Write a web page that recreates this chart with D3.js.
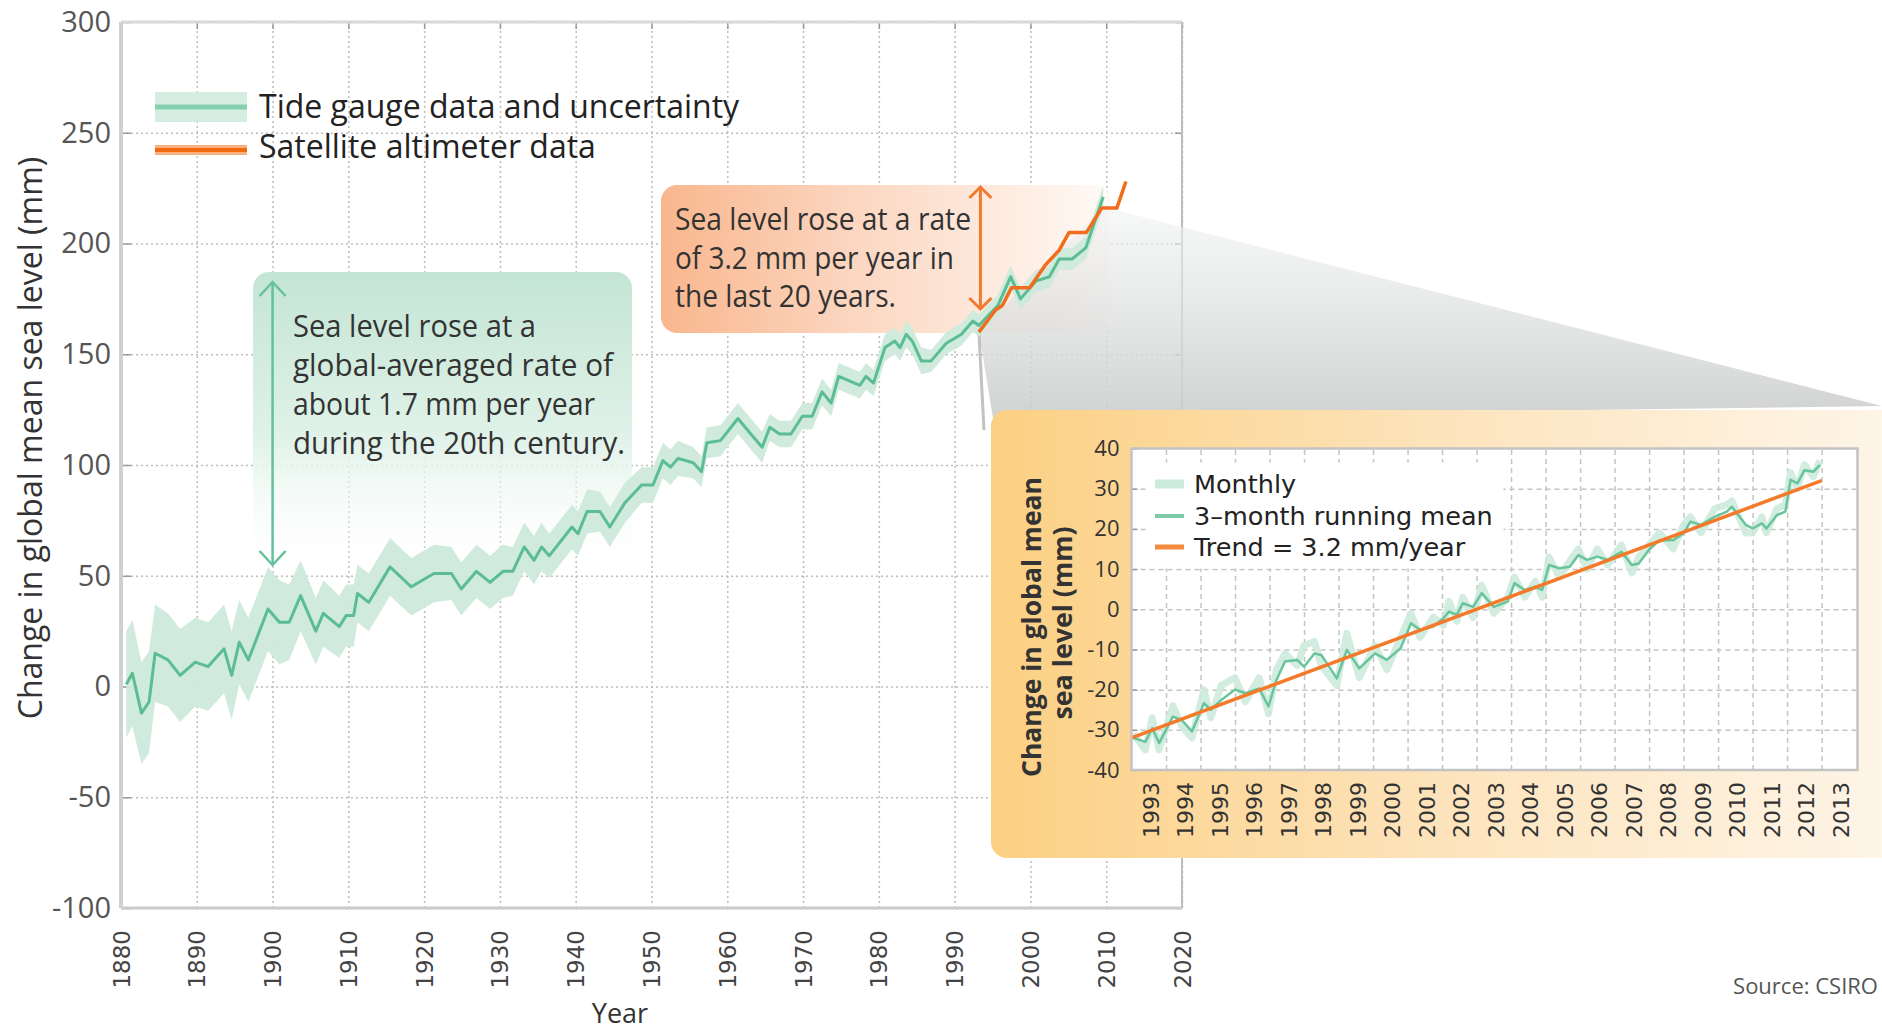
<!DOCTYPE html>
<html>
<head>
<meta charset="utf-8">
<title>Global mean sea level</title>
<script src="https://cdn.jsdelivr.net/npm/d3@7"></script>
<style>
  body { margin: 0; background: #fff; }
  svg { display: block; }
  .grid line { stroke: #bdbdbd; stroke-width: 1.5; stroke-dasharray: 2,3; }
  .grid path, .igrid path, .axis path { display: none; }
  .igrid line { stroke: #c4c4c4; stroke-width: 1.5; stroke-dasharray: 5,4; }
  .axis line { stroke: #9a9a9a; stroke-width: 1.5; }
</style>
</head>
<body>
<div id="chart"></div>
<script>
// tide gauge reconstruction (mm)
var tgYears = [1880.7, 1881.5, 1882.7, 1883.7, 1884.5, 1886.2, 1887.8, 1889.8, 1891.5, 1893.6,
    1894.6, 1895.6, 1896.8, 1899.4, 1900.9, 1902.2, 1903.7, 1905.7, 1906.7, 1908.8,
    1909.7, 1910.7, 1911.2, 1912.7, 1915.5, 1918.3, 1921.3, 1923.6, 1924.9, 1926.9,
    1928.7, 1930.4, 1931.7, 1933.2, 1934.5, 1935.5, 1936.5, 1939.5, 1940.3, 1941.5,
    1943.2, 1944.5, 1946.5, 1948.7, 1950.2, 1951.5, 1952.5, 1953.5, 1955.5, 1956.6,
    1957.3, 1959.1, 1961.4, 1963.1, 1964.6, 1965.6, 1966.9, 1968.4, 1969.9, 1971.2,
    1972.5, 1973.7, 1974.7, 1977.5, 1978.3, 1979.3, 1980.8, 1982.1, 1982.8, 1983.6,
    1984.4, 1985.6, 1986.9, 1988.9, 1990.9, 1992.4, 1993.2, 1995.7, 1997.4, 1998.7,
    2000.7, 2002.5, 2003.8, 2005.5, 2007.3, 2008.3, 2009.6];
var tgValues = [1, 6, -12, -7, 15, 12, 5, 11, 9, 17,
    5, 20, 12, 35, 29, 29, 41, 25, 33, 27,
    32, 32, 42, 38, 54, 45, 51, 51, 44, 52,
    47, 52, 52, 63, 57, 63, 59, 72, 69, 79,
    79, 72, 83, 91, 91, 102, 99, 103, 101, 97,
    110, 111, 121, 114, 108, 117, 114, 114, 122, 122,
    133, 128, 140, 136, 140, 137, 153, 156, 153, 159,
    156, 147, 147, 155, 159, 165, 163, 172, 185, 175,
    183, 185, 193, 193, 198, 208, 221];
var tgUncertainty = [24, 24, 23, 23, 22, 21, 21, 20, 20, 20,
    20, 19, 19, 19, 19, 17, 16, 15, 15, 14,
    14, 14, 13, 13, 13, 13, 13, 12, 12, 12,
    12, 12, 11, 11, 11, 11, 10, 10, 10, 10,
    9, 9, 9, 8, 8, 8, 8, 8, 7, 7,
    7, 7, 7, 7, 7, 6, 6, 6, 6, 6,
    6, 6, 6, 6, 6, 6, 6, 6, 6, 6,
    6, 6, 5, 5, 5, 5, 5, 5, 5, 5,
    5, 5, 5, 5, 5, 5, 5];

// satellite altimetry (mm)
var satYears = [1993.2, 1995.4, 1996.3, 1997.5, 1999.9, 2001.9, 2003.8, 2005.1, 2007.4, 2009.4, 2011.4, 2012.6];
var satValues = [160, 170, 172, 180, 180, 190, 197, 205, 205, 216, 216, 228];

var yearTicks = [1880, 1890, 1900, 1910, 1920, 1930, 1940, 1950, 1960, 1970, 1980, 1990, 2000, 2010, 2020];
var levelTicks = [-100, -50, 0, 50, 100, 150, 200, 250, 300];

// inset: satellite record 1993-2013 (mm)
var insetYears = [1993.05, 1993.4, 1993.6, 1993.8, 1994.2, 1994.45, 1994.75, 1995.1, 1995.3, 1995.6,
    1996.0, 1996.3, 1996.7, 1996.97, 1997.2, 1997.45, 1997.8, 1998.0, 1998.3, 1998.5,
    1998.95, 1999.24, 1999.6, 2000.06, 2000.4, 2000.8, 2001.1, 2001.36, 2001.75, 2002.04,
    2002.2, 2002.43, 2002.6, 2002.9, 2003.15, 2003.5, 2003.9, 2004.1, 2004.4, 2004.7,
    2004.9, 2005.1, 2005.4, 2005.7, 2005.95, 2006.2, 2006.5, 2006.8, 2007.2, 2007.5,
    2007.7, 2008.0, 2008.3, 2008.7, 2009.0, 2009.2, 2009.5, 2009.9, 2010.25, 2010.4,
    2010.8, 2011.0, 2011.27, 2011.4, 2011.7, 2011.95, 2012.1, 2012.3, 2012.5, 2012.76,
    2012.95];
var runningMean = [-32, -33, -29.6, -33.3, -26.7, -27.5, -30.4, -23.4, -25, -22.6,
    -20, -20.9, -19.7, -24.2, -17.6, -13, -12.6, -14.3, -11, -11.4,
    -17.2, -10.1, -14.7, -11, -12.6, -9.7, -3.5, -5.1, -4.3, -2.2,
    -0.6, -1.4, 1.5, 0.6, 4, 0.6, 1.9, 6.5, 4.8, 5.6,
    4.8, 11, 10.2, 10.6, 13.5, 12.3, 13.1, 12.3, 14.3, 11,
    11.4, 14.8, 17.2, 17.2, 18.9, 21.8, 21, 23, 24.3, 25.5,
    21, 20.1, 21.4, 20.1, 23.4, 24.3, 32.2, 31.3, 34.6, 34.2,
    35.9];
var monthly = [-31, -35, -27, -35, -24, -29, -32, -20, -27, -19,
    -17, -23, -17, -26, -15, -11, -14, -9, -8, -14,
    -19, -6, -17, -9, -15, -7, -1, -7, -2, -4,
    2, -3, 3, -2, 6, -1, 3, 8, 3, 7,
    3, 13, 8, 12, 15, 10, 15, 11, 16, 9,
    13, 16, 19, 15, 21, 23, 19, 25, 26, 27,
    19, 19, 23, 19, 25, 26, 34, 30, 36, 33,
    37];
var trendYears = [1993, 2013];
var trendValues = [-32, 32];
var insetYearTicks = [1993, 1994, 1995, 1996, 1997, 1998, 1999, 2000, 2001, 2002, 2003,
    2004, 2005, 2006, 2007, 2008, 2009, 2010, 2011, 2012, 2013];
var insetGridYears = [1994, 1995, 1996, 1997, 1998, 1999, 2000, 2001, 2002, 2003,
    2004, 2005, 2006, 2007, 2008, 2009, 2010, 2011, 2012, 2013];
var insetLevelTicks = [-40, -30, -20, -10, 0, 10, 20, 30, 40];

var W = 1882, H = 1031;
var sans = "'Open Sans', 'Noto Sans', sans-serif",
    wide = "'DejaVu Sans', Verdana, sans-serif";
var plain = function(d) { return String(d); };   // keeps the ASCII hyphen for negatives

var svg = d3.select("#chart").append("svg").attr("width", W).attr("height", H);
var defs = svg.append("defs");

function gradient(id, horizontal, stops) {
    var lg = defs.append("linearGradient").attr("id", id)
        .attr("x1", 0).attr("y1", 0).attr("x2", horizontal ? 1 : 0).attr("y2", horizontal ? 0 : 1);
    stops.forEach(function(s) {
        lg.append("stop").attr("offset", s[0]).attr("stop-color", s[1])
            .attr("stop-opacity", s.length > 2 ? s[2] : 1);
    });
}
gradient("greenNote", false, [[0, "#c4e5d5"], [0.55, "#e0f2e9"], [1, "#ffffff", 0]]);
gradient("orangeNote", true, [[0, "#f9b68d"], [0.45, "#fcd8c3"], [1, "#fffaf6"]]);
gradient("wedge", false, [[0, "#f1f3f4", 0.6], [1, "#cbcccc", 0.9]]);
gradient("insetBox", true, [[0, "#fcd083"], [0.5, "#fde4bd"], [1, "#fef6ea"]]);

// ---------- main chart ----------
var margin = {top: 22, left: 121},
    width = 1061, height = 886;
var x = d3.scaleLinear().domain([1880, 2020]).range([0, width]);
var y = d3.scaleLinear().domain([-100, 300]).range([height, 0]);
function px(v) { return margin.left + x(v); }
function py(v) { return margin.top + y(v); }

var main = svg.append("g").attr("transform", "translate(" + margin.left + "," + margin.top + ")");
main.append("g").attr("class", "grid").attr("transform", "translate(0," + height + ")")
    .call(d3.axisBottom(x).tickValues(yearTicks).tickSize(-height).tickFormat(""));
main.append("g").attr("class", "grid")
    .call(d3.axisLeft(y).tickValues(levelTicks).tickSize(-width).tickFormat(""));

// annotation boxes
svg.append("rect").attr("x", 253).attr("y", 272).attr("width", 379).attr("height", 303)
    .attr("rx", 16).attr("fill", "url(#greenNote)");
svg.append("rect").attr("x", 661).attr("y", 185).attr("width", 449).attr("height", 148)
    .attr("rx", 16).attr("fill", "url(#orangeNote)");

// zoom wedge towards the inset
var wedgeA = [px(satYears[0]), py(satValues[0])],
    wedgeB = [px(tgYears[tgYears.length - 1]), py(tgValues[tgValues.length - 1]) + 10];
svg.append("path").attr("fill", "url(#wedge)")
    .attr("d", "M" + wedgeA + "L" + wedgeB + "L" + [W, 406] + "L" + [993, 418] + "Z");
svg.append("line").attr("x1", wedgeA[0]).attr("y1", wedgeA[1]).attr("x2", 984).attr("y2", 430)
    .attr("stroke", "#a9a9a9").attr("stroke-width", 3).attr("opacity", 0.7);

var tg = tgYears.map(function(yr, i) { return {year: yr, level: tgValues[i], err: tgUncertainty[i]}; });
var sat = satYears.map(function(yr, i) { return {year: yr, level: satValues[i]}; });

var band = d3.area().x(function(d) { return px(d.year); })
    .y0(function(d) { return py(d.level - d.err); })
    .y1(function(d) { return py(d.level + d.err); });
var line = d3.line().x(function(d) { return px(d.year); }).y(function(d) { return py(d.level); });

svg.append("path").datum(tg).attr("d", band).attr("fill", "#cdeadb").attr("opacity", 0.95);
svg.append("path").datum(tg).attr("d", line).attr("fill", "none")
    .attr("stroke", "#5bbd92").attr("stroke-width", 3).attr("stroke-linejoin", "round");
svg.append("path").datum(sat).attr("d", line).attr("fill", "none")
    .attr("stroke", "#f36b1c").attr("stroke-width", 3.5).attr("stroke-linejoin", "round");

// double arrows
function doubleArrow(xPos, y1, y2, color, w, h, sw) {
    var a = svg.append("g").attr("fill", "none").attr("stroke", color).attr("stroke-width", sw);
    a.append("line").attr("x1", xPos).attr("x2", xPos).attr("y1", y1 + 1).attr("y2", y2 - 1);
    a.append("path").attr("d", "M" + (xPos - w) + "," + (y1 + h) + "L" + xPos + "," + y1 + "L" + (xPos + w) + "," + (y1 + h));
    a.append("path").attr("d", "M" + (xPos - w) + "," + (y2 - h) + "L" + xPos + "," + y2 + "L" + (xPos + w) + "," + (y2 - h));
}
doubleArrow(px(1900), 282, 565, "#62c29a", 13, 14, 2.5);
doubleArrow(px(1993.4), 187, 309, "#f27a2e", 11, 11, 3);

// annotation texts (the originals are set in a slightly condensed face)
var greenLines = [
    {text: "Sea level rose at a", len: 243},
    {text: "global-averaged rate of", len: 320},
    {text: "about 1.7 mm per year", len: 302},
    {text: "during the 20th century.", len: 332}
];
var orangeLines = [
    {text: "Sea level rose at a rate", len: 296},
    {text: "of 3.2 mm per year in", len: 279},
    {text: "the last 20 years.", len: 221}
];
svg.selectAll(".gnote").data(greenLines).enter().append("text")
    .attr("x", 293).attr("y", function(d, i) { return 337 + i * 39; })
    .attr("textLength", function(d) { return d.len; }).attr("lengthAdjust", "spacingAndGlyphs")
    .style("font-family", sans).style("font-size", "31px").attr("fill", "#333").text(function(d) { return d.text; });
svg.selectAll(".onote").data(orangeLines).enter().append("text")
    .attr("x", 675).attr("y", function(d, i) { return 230 + i * 38.5; })
    .attr("textLength", function(d) { return d.len; }).attr("lengthAdjust", "spacingAndGlyphs")
    .style("font-family", sans).style("font-size", "31px").attr("fill", "#333").text(function(d) { return d.text; });

// borders and ticks
main.append("g").attr("class", "axis").call(d3.axisTop(x).tickValues(yearTicks).tickSizeInner(-7).tickSizeOuter(0).tickFormat(""));
main.append("g").attr("class", "axis").attr("transform", "translate(" + width + ",0)")
    .call(d3.axisRight(y).tickValues(levelTicks).tickSizeInner(-7).tickSizeOuter(0).tickFormat(""));
var yAxis = main.append("g").attr("class", "axis")
    .call(d3.axisLeft(y).tickValues(levelTicks).tickSizeInner(-10).tickSizeOuter(0).tickPadding(10).tickFormat(plain));
yAxis.selectAll("text").style("font-family", sans).style("font-size", "29px").attr("fill", "#555");
var xAxis = main.append("g").attr("class", "axis").attr("transform", "translate(0," + height + ")")
    .call(d3.axisBottom(x).tickValues(yearTicks).tickSize(0).tickFormat(plain));
xAxis.selectAll("text").attr("transform", "rotate(-90)").attr("x", -22).attr("y", 0).attr("dy", ".35em")
    .style("text-anchor", "end").style("font-family", wide).style("font-size", "23px").attr("fill", "#444");

main.append("line").attr("x1", 0).attr("x2", width).attr("y1", 0).attr("y2", 0).attr("stroke", "#d6d9db").attr("stroke-width", 3);
main.append("line").attr("x1", 0).attr("x2", width).attr("y1", height).attr("y2", height).attr("stroke", "#cbcbcb").attr("stroke-width", 3);
main.append("line").attr("x1", 0).attr("x2", 0).attr("y1", 0).attr("y2", height).attr("stroke", "#cdd1d3").attr("stroke-width", 4);
main.append("line").attr("x1", width).attr("x2", width).attr("y1", 0).attr("y2", height).attr("stroke", "#bdbdbd").attr("stroke-width", 2);

svg.append("text").attr("transform", "translate(31,438) rotate(-90)").attr("dy", ".35em")
    .style("text-anchor", "middle").style("font-family", sans).style("font-size", "32px").attr("fill", "#333")
    .text("Change in global mean sea level (mm)");
svg.append("text").attr("x", 620).attr("y", 1023).style("text-anchor", "middle")
    .style("font-family", sans).style("font-size", "27px").attr("fill", "#333").text("Year");

// legend
svg.append("rect").attr("x", 155).attr("y", 92).attr("width", 92).attr("height", 30).attr("fill", "#d5ede1");
svg.append("line").attr("x1", 155).attr("x2", 247).attr("y1", 107).attr("y2", 107).attr("stroke", "#85cfad").attr("stroke-width", 5);
svg.append("rect").attr("x", 155).attr("y", 145).attr("width", 92).attr("height", 10).attr("fill", "#f7b07f");
svg.append("line").attr("x1", 155).attr("x2", 247).attr("y1", 150).attr("y2", 150).attr("stroke", "#f06a14").attr("stroke-width", 4);
svg.append("text").attr("x", 259).attr("y", 118).style("font-family", sans).style("font-size", "32px")
    .attr("fill", "#222").text("Tide gauge data and uncertainty");
svg.append("text").attr("x", 259).attr("y", 158).style("font-family", sans).style("font-size", "32px")
    .attr("fill", "#222").text("Satellite altimeter data");

svg.append("text").attr("x", 1878).attr("y", 994).style("text-anchor", "end")
    .style("font-family", sans).style("font-size", "22px").attr("fill", "#555").text("Source: CSIRO");

// ---------- inset ----------
svg.append("rect").attr("x", 991).attr("y", 410).attr("width", 920).attr("height", 448)
    .attr("rx", 16).attr("fill", "url(#insetBox)");

var inset = {left: 1131.5, top: 448.5}, iw = 726, ih = 321.5;
var xi = d3.scaleLinear().domain([1993, 2014.04]).range([0, iw]);
var yi = d3.scaleLinear().domain([-40, 40]).range([ih, 0]);
var ig = svg.append("g").attr("transform", "translate(" + inset.left + "," + inset.top + ")");

ig.append("rect").attr("width", iw).attr("height", ih).attr("fill", "#fff");
ig.append("g").attr("class", "igrid").attr("transform", "translate(0," + ih + ")")
    .call(d3.axisBottom(xi).tickValues(insetGridYears).tickSize(-ih).tickFormat(""));
ig.append("g").attr("class", "igrid")
    .call(d3.axisLeft(yi).tickValues(insetLevelTicks.slice(1, -1)).tickSize(-iw).tickFormat(""));
// legend background hides the grid
ig.append("rect").attr("x", 15).attr("y", 14).attr("width", 357).attr("height", 106).attr("fill", "#fff");

var monthlyData = insetYears.map(function(yr, i) { return {year: yr, level: monthly[i]}; });
var meanData = insetYears.map(function(yr, i) { return {year: yr, level: runningMean[i]}; });
var trendData = trendYears.map(function(yr, i) { return {year: yr, level: trendValues[i]}; });
var iline = d3.line().x(function(d) { return xi(d.year); }).y(function(d) { return yi(d.level); });

ig.append("path").datum(monthlyData).attr("d", iline).attr("fill", "none")
    .attr("stroke", "#cdebdd").attr("stroke-width", 7).attr("stroke-linejoin", "round").attr("opacity", 0.9);
ig.append("path").datum(meanData).attr("d", iline).attr("fill", "none")
    .attr("stroke", "#68c49b").attr("stroke-width", 2.5).attr("stroke-linejoin", "round");
ig.append("path").datum(trendData).attr("d", iline).attr("fill", "none")
    .attr("stroke", "#f47a2a").attr("stroke-width", 3.5);

var iyAxis = ig.append("g").attr("class", "axis")
    .call(d3.axisLeft(yi).tickValues(insetLevelTicks).tickSizeInner(-6).tickSizeOuter(0).tickPadding(12).tickFormat(plain));
iyAxis.selectAll("text").style("font-family", sans).style("font-size", "22px").attr("fill", "#333");
var ixAxis = ig.append("g").attr("class", "axis").attr("transform", "translate(0," + ih + ")")
    .call(d3.axisBottom(xi).tickValues(insetYearTicks).tickSize(0).tickFormat(plain));
ixAxis.selectAll("text").attr("transform", "rotate(-90)").attr("x", -12).attr("y", xi(1993.55) - xi(1993))
    .attr("dy", ".35em").style("text-anchor", "end").style("font-family", wide).style("font-size", "22px").attr("fill", "#333");

ig.append("rect").attr("width", iw).attr("height", ih).attr("fill", "none").attr("stroke", "#c3c3c3").attr("stroke-width", 2.5);

// inset legend
var ilegend = [
    {label: "Monthly", color: "#cdebdd", w: 9},
    {label: "3\u2013month running mean", color: "#7ccaa6", w: 4},
    {label: "Trend = 3.2 mm/year", color: "#f58a3c", w: 5}
];
var rows = [484, 516, 547];
ilegend.forEach(function(d, i) {
    svg.append("line").attr("x1", 1155).attr("x2", 1184).attr("y1", rows[i]).attr("y2", rows[i])
        .attr("stroke", d.color).attr("stroke-width", d.w);
    svg.append("text").attr("x", 1194).attr("y", rows[i]).attr("dy", ".35em")
        .style("font-family", wide).style("font-size", "25.5px").attr("fill", "#222").text(d.label);
});

svg.append("text").attr("transform", "translate(1032,627) rotate(-90)").attr("dy", ".35em")
    .style("text-anchor", "middle").style("font-family", sans).style("font-size", "27px").style("font-weight", "bold")
    .attr("fill", "#333").attr("textLength", 300).attr("lengthAdjust", "spacingAndGlyphs").text("Change in global mean");
svg.append("text").attr("transform", "translate(1063,623) rotate(-90)").attr("dy", ".35em")
    .style("text-anchor", "middle").style("font-family", sans).style("font-size", "27px").style("font-weight", "bold")
    .attr("fill", "#333").attr("textLength", 193).attr("lengthAdjust", "spacingAndGlyphs").text("sea level  (mm)");
</script>
</body>
</html>
